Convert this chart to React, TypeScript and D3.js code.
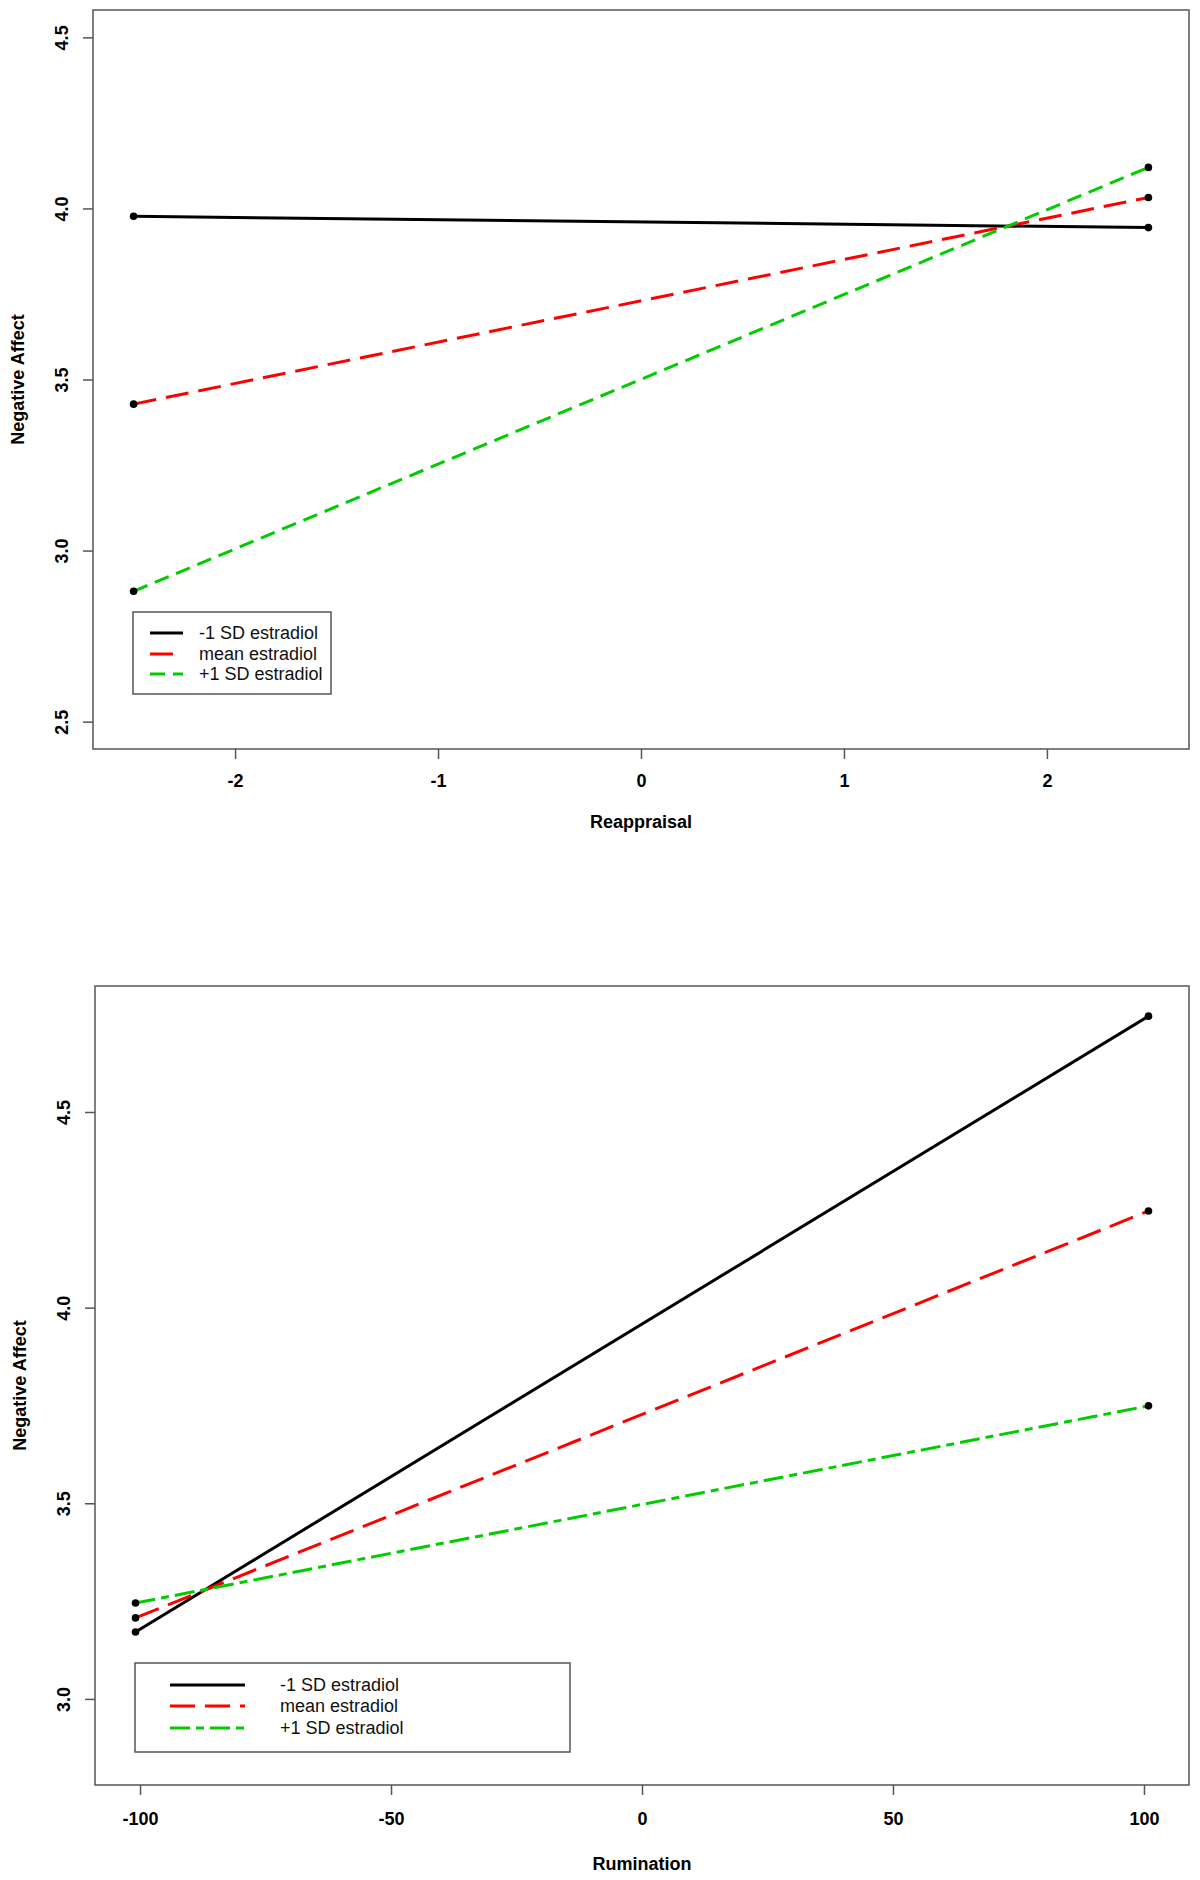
import * as d3 from 'd3';
import React, { useEffect } from 'react';

// series labels shared by both panels
const seriesNames = ['-1 SD estradiol', 'mean estradiol', '+1 SD estradiol'];
const seriesColors = ['#000000', '#ff0000', '#00cd00'];

// top panel: Reappraisal
const reappraisalX = [-2.5, 2.5];
const reappraisalLow = [3.977, 3.944];
const reappraisalMean = [3.428, 4.032];
const reappraisalHigh = [2.881, 4.12];
const reappraisalTicksX = [-2, -1, 0, 1, 2];
const reappraisalTicksY = [2.5, 3.0, 3.5, 4.0, 4.5];

// bottom panel: Rumination
const ruminationX = [-100.9, 100.9];
const ruminationLow = [3.171, 4.745];
const ruminationMean = [3.207, 4.247];
const ruminationHigh = [3.245, 3.749];
const ruminationTicksX = [-100, -50, 0, 50, 100];
const ruminationTicksY = [3.0, 3.5, 4.0, 4.5];

type PanelSpec = {
  xTitle: string;
  xs: number[];
  series: number[][];
  ticksX: number[];
  ticksY: number[];
  xDomain: [number, number];
  yDomain: [number, number];
  box: { left: number; right: number; top: number; bottom: number };
  dashes: string[];
  legend: { x: number; y: number; w: number; h: number; lineX0: number; lineX1: number; textX: number; rowY: number[] };
  tickLabelDy: number;
  titleDy: number;
};

const font = 'Liberation Sans, Arial, Helvetica, sans-serif';
const frameColor = '#555555';

function drawPanel(root: d3.Selection<SVGSVGElement, unknown, null, undefined>, p: PanelSpec) {
  const { box } = p;
  const x = d3.scaleLinear().domain(p.xDomain).range([box.left, box.right]);
  const y = d3.scaleLinear().domain(p.yDomain).range([box.bottom, box.top]);

  const g = root.append('g');

  // X axis
  const xAxis = g
    .append('g')
    .attr('transform', `translate(0,${box.bottom})`)
    .call(
      d3
        .axisBottom(x)
        .tickValues(p.ticksX)
        .tickSize(10)
        .tickFormat(d => String(d))
    );
  xAxis.select('.domain').remove();
  xAxis.selectAll('line').attr('stroke', frameColor).attr('stroke-width', 1.5);
  xAxis
    .selectAll('text')
    .attr('y', p.tickLabelDy)
    .attr('dy', '0.36em')
    .attr('fill', '#000')
    .style('font-family', font)
    .style('font-size', '18px')
    .style('font-weight', 'bold');

  // Y axis (labels rotated like R's default las=0)
  const yAxis = g
    .append('g')
    .attr('transform', `translate(${box.left},0)`)
    .call(
      d3
        .axisLeft(y)
        .tickValues(p.ticksY)
        .tickSize(10)
        .tickFormat(d => d3.format('.1f')(d as number))
    );
  yAxis.select('.domain').remove();
  yAxis.selectAll('line').attr('stroke', frameColor).attr('stroke-width', 1.5);
  yAxis
    .selectAll('text')
    .attr('x', 0)
    .attr('dy', 0)
    .attr('transform', 'translate(-31,0) rotate(-90)')
    .attr('text-anchor', 'middle')
    .attr('dominant-baseline', 'central')
    .attr('fill', '#000')
    .style('font-family', font)
    .style('font-size', '18px')
    .style('font-weight', 'bold');

  // Titles
  g.append('text')
    .attr('x', (box.left + box.right) / 2)
    .attr('y', box.bottom + p.titleDy)
    .attr('dy', '0.36em')
    .attr('text-anchor', 'middle')
    .style('font-family', font)
    .style('font-size', '18px')
    .style('font-weight', 'bold')
    .text(p.xTitle);

  g.append('text')
    .attr('transform', `translate(${box.left - 75},${(box.top + box.bottom) / 2}) rotate(-90)`)
    .attr('text-anchor', 'middle')
    .attr('dominant-baseline', 'central')
    .style('font-family', font)
    .style('font-size', '18px')
    .style('font-weight', 'bold')
    .text('Negative Affect');

  // Lines
  const line = d3
    .line<number>()
    .x((_, i) => x(p.xs[i]))
    .y(d => y(d));

  p.series.forEach((vals, i) => {
    g.append('path')
      .datum(vals)
      .attr('fill', 'none')
      .attr('stroke', seriesColors[i])
      .attr('stroke-width', 3)
      .attr('stroke-dasharray', p.dashes[i])
      .attr('d', line);
  });

  // Points
  p.series.forEach(vals => {
    g.selectAll(null)
      .data(vals)
      .enter()
      .append('circle')
      .attr('cx', (_, i) => x(p.xs[i]))
      .attr('cy', d => y(d))
      .attr('r', 3.8)
      .attr('fill', '#000');
  });

  // Legend
  const lg = p.legend;
  g.append('rect')
    .attr('x', lg.x)
    .attr('y', lg.y)
    .attr('width', lg.w)
    .attr('height', lg.h)
    .attr('fill', '#fff')
    .attr('stroke', frameColor)
    .attr('stroke-width', 1.5);
  seriesNames.forEach((name, i) => {
    g.append('line')
      .attr('x1', lg.lineX0)
      .attr('x2', lg.lineX1)
      .attr('y1', lg.rowY[i])
      .attr('y2', lg.rowY[i])
      .attr('stroke', seriesColors[i])
      .attr('stroke-width', 3)
      .attr('stroke-dasharray', p.dashes[i]);
    g.append('text')
      .attr('x', lg.textX)
      .attr('y', lg.rowY[i])
      .attr('dominant-baseline', 'central')
      .style('font-family', font)
      .style('font-size', '18px')
      .attr('fill', '#111')
      .text(name);
  });

  // Frame
  g.append('rect')
    .attr('x', box.left)
    .attr('y', box.top)
    .attr('width', box.right - box.left)
    .attr('height', box.bottom - box.top)
    .attr('fill', 'none')
    .attr('stroke', frameColor)
    .attr('stroke-width', 1.5);
}

export default function App() {
  const ref = React.useRef<SVGSVGElement>(null);

  useEffect(() => {
    if (!ref.current) return;
    const svg = d3.select(ref.current);
    svg.selectAll('*').remove();

    drawPanel(svg, {
      xTitle: 'Reappraisal',
      xs: reappraisalX,
      series: [reappraisalLow, reappraisalMean, reappraisalHigh],
      ticksX: reappraisalTicksX,
      ticksY: reappraisalTicksY,
      xDomain: [-2.7, 2.7],
      yDomain: [2.42, 4.58],
      box: { left: 93, right: 1189, top: 10, bottom: 749 },
      dashes: ['none', '23 10', '15 8'],
      legend: { x: 133, y: 612, w: 198, h: 82, lineX0: 150, lineX1: 183, textX: 199, rowY: [633, 654, 674] },
      tickLabelDy: 32,
      titleDy: 73,
    });

    drawPanel(svg, {
      xTitle: 'Rumination',
      xs: ruminationX,
      series: [ruminationLow, ruminationMean, ruminationHigh],
      ticksX: ruminationTicksX,
      ticksY: ruminationTicksY,
      xDomain: [-108.97, 108.97],
      yDomain: [2.78, 4.822],
      box: { left: 95, right: 1189, top: 986, bottom: 1785 },
      dashes: ['none', '25 10', '20 6 8 6'],
      legend: { x: 135, y: 1663, w: 435, h: 89, lineX0: 170, lineX1: 245, textX: 280, rowY: [1685, 1706, 1728] },
      tickLabelDy: 34,
      titleDy: 79,
    });
  }, []);

  return (
    <svg
      ref={ref}
      width={1200}
      height={1880}
      style={{ position: 'absolute', left: 0, top: 0, background: '#fff' }}
    />
  );
}
